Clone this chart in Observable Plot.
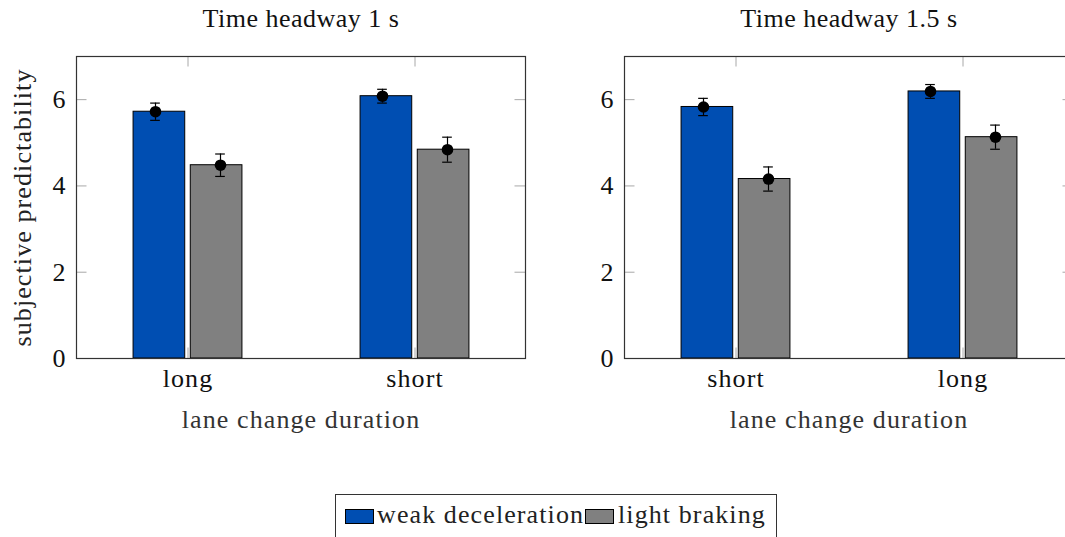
<!DOCTYPE html>
<html>
<head>
<meta charset="utf-8">
<script src="https://cdn.jsdelivr.net/npm/d3@7"></script>
<script src="https://cdn.jsdelivr.net/npm/@observablehq/plot@0.6"></script>
<style>
  html, body { margin: 0; padding: 0; background: #fff; }
  #root { position: relative; width: 1065px; height: 537px; overflow: hidden; font-family: 'Liberation Serif', serif; }
  .panel { position: absolute; top: 0; width: 540px; height: 450px; }
  .panel svg { max-width: none !important; }
  .panel svg text { letter-spacing: 1.1px; }
  #legend { position: absolute; left: 335px; top: 494px; width: 442px; height: 60px; border: 1.2px solid #333; box-sizing: border-box;
    font-size: 26px; letter-spacing: 1.1px; color: #222; }
  .sw { position: absolute; top: 14px; width: 29px; height: 15px; border: 1px solid #000; box-sizing: border-box; }
  .lt { position: absolute; top: 5px; line-height: 30px; white-space: nowrap; }
</style>
</head>
<body>
<div id="root">
  <div id="p1" class="panel" style="left:0px"></div>
  <div id="p2" class="panel" style="left:548px"></div>
  <div id="legend"></div>
</div>
<script>
// ---- data ----
const seriesNames = ["weak deceleration", "light braking"];
const seriesColors = ["#004EB2", "#808080"];
const titles = ["Time headway 1 s", "Time headway 1.5 s"];
const categories1 = ["long", "short"];
const weak1 = [5.72, 6.08];
const weakErr1 = [0.20, 0.16];
const light1 = [4.48, 4.84];
const lightErr1 = [0.26, 0.29];
const categories2 = ["short", "long"];
const weak2 = [5.83, 6.19];
const weakErr2 = [0.20, 0.16];
const light2 = [4.16, 5.13];
const lightErr2 = [0.28, 0.28];
const yTicks = [0, 2, 4, 6];
const xLabel = "lane change duration";
const yLabel = "subjective predictability";

const FONT = "Liberation Serif";
const FS = 26;

function rows(cats, vals, errs) {
  return cats.map((c, i) => ({cat: c, v: vals[i], lo: vals[i] - errs[i], hi: vals[i] + errs[i]}));
}

function panel(cats, weak, weakErr, light, lightErr, title, showYLabel) {
  const W = 540, H = 450, mL = 76, mR = 15, mT = 56, mB = 92;
  const fw = W - mL - mR; // 449
  const fh = H - mT - mB; // 302
  const ext = 2.84;
  const bw = (fw + 2 * ext) / 2;
  const barW = 52, capW = 10, tickLen = 10.5;
  const dW = rows(cats, weak, weakErr);
  const dL = rows(cats, light, lightErr);
  const barIn = (bw - barW) / 2;
  const capIn = (bw - capW) / 2;
  const tickColor = "#a8a8a8";
  const marks = [
    Plot.ruleY(yTicks, {y: d => d, insetRight: fw - tickLen, stroke: tickColor}),
    Plot.ruleY(yTicks, {y: d => d, insetLeft: fw - tickLen, stroke: tickColor}),
    Plot.ruleX(cats, {x: d => d, insetBottom: fh - tickLen, stroke: tickColor}),
    Plot.ruleX(cats, {x: d => d, insetTop: fh - tickLen, stroke: tickColor}),
    Plot.barY(dW, {x: "cat", y: "v", fill: seriesColors[0], stroke: "#000", strokeWidth: 1, dx: -28.6, insetLeft: barIn, insetRight: barIn}),
    Plot.barY(dL, {x: "cat", y: "v", fill: seriesColors[1], stroke: "#000", strokeWidth: 1, dx: 28.6, insetLeft: barIn, insetRight: barIn}),
  ];
  for (const [d, dx] of [[dW, -32.5], [dL, 32.5]]) {
    marks.push(
      Plot.ruleX(d, {x: "cat", y1: "lo", y2: "hi", dx, stroke: "#000", strokeWidth: 1.2}),
      Plot.tickY(d, {x: "cat", y: "lo", dx, insetLeft: capIn, insetRight: capIn, stroke: "#000", strokeWidth: 1.2}),
      Plot.tickY(d, {x: "cat", y: "hi", dx, insetLeft: capIn, insetRight: capIn, stroke: "#000", strokeWidth: 1.2}),
      Plot.dot(d, {x: "cat", y: "v", dx, r: 5.8, fill: "#000", stroke: "none"})
    );
  }
  marks.push(
    Plot.frame({stroke: "#333", strokeWidth: 1.2}),
    Plot.axisY({ticks: yTicks, tickFormat: d => String(d), tickSize: 0, tickPadding: 10, label: null, fontSize: FS, fontFamily: FONT, fill: "#111"}),
    Plot.axisX({tickSize: 0, tickPadding: 10, label: null, fontSize: FS, fontFamily: FONT, fill: "#111"}),
    Plot.text([xLabel], {frameAnchor: "bottom", dy: 69.5, fontSize: FS, fill: "#333", fontFamily: FONT}),
    Plot.text([title], {frameAnchor: "top", dy: -48, fontSize: FS, fill: "#111", fontFamily: FONT})
  );
  if (showYLabel) marks.push(Plot.text([yLabel], {frameAnchor: "left", textAnchor: "middle", dx: -54, rotate: -90, fontSize: FS, fill: "#222", fontFamily: FONT}));
  const svg = Plot.plot({
    width: W, height: H,
    marginLeft: mL, marginRight: mR, marginTop: mT, marginBottom: mB,
    style: {fontSize: FS + "px", fontFamily: FONT, color: "#111", background: "transparent", overflow: "visible", maxWidth: "none"},
    x: {domain: cats, range: [mL - ext, W - mR + ext], padding: 0},
    y: {domain: [0, 7]},
    marks
  });
  svg.querySelectorAll("text").forEach(t => { if (titles.includes(t.textContent)) t.style.letterSpacing = "0.5px"; });
  return svg;
}

document.getElementById("p1").append(panel(categories1, weak1, weakErr1, light1, lightErr1, titles[0], true));
document.getElementById("p2").append(panel(categories2, weak2, weakErr2, light2, lightErr2, titles[1], false));

// legend
const lg = document.getElementById("legend");
const swLeft = [9, 249], txtLeft = [41, 282];
seriesNames.forEach((n, i) => {
  const sw = document.createElement("span");
  sw.className = "sw";
  sw.style.left = swLeft[i] + "px";
  sw.style.background = seriesColors[i];
  const tx = document.createElement("span");
  tx.className = "lt";
  tx.style.left = txtLeft[i] + "px";
  tx.textContent = n;
  lg.append(sw, tx);
});
</script>
</body>
</html>
